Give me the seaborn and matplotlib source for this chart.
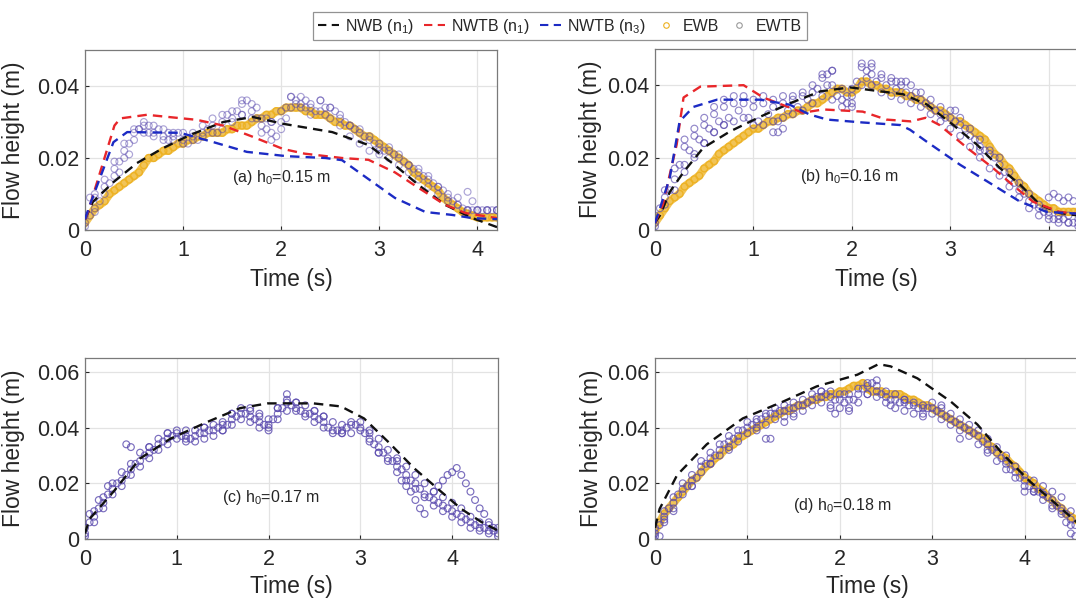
import matplotlib
matplotlib.use("Agg")
import matplotlib.pyplot as plt
from matplotlib.lines import Line2D
from matplotlib.ticker import FuncFormatter
import seaborn as sns

# ---- sample times of the measured series (s) ----
T = [0.00, 0.05, 0.10, 0.15, 0.20, 0.25, 0.30, 0.35, 0.40, 0.45,
     0.50, 0.55, 0.60, 0.65, 0.70, 0.75, 0.80, 0.85, 0.90, 0.95,
     1.00, 1.05, 1.10, 1.15, 1.20, 1.25, 1.30, 1.35, 1.40, 1.45,
     1.50, 1.55, 1.60, 1.65, 1.70, 1.75, 1.80, 1.85, 1.90, 1.95,
     2.00, 2.05, 2.10, 2.15, 2.20, 2.25, 2.30, 2.35, 2.40, 2.45,
     2.50, 2.55, 2.60, 2.65, 2.70, 2.75, 2.80, 2.85, 2.90, 2.95,
     3.00, 3.05, 3.10, 3.15, 3.20, 3.25, 3.30, 3.35, 3.40, 3.45,
     3.50, 3.55, 3.60, 3.65, 3.70, 3.75, 3.80, 3.85, 3.90, 3.95,
     4.00, 4.05, 4.10, 4.15, 4.20, 4.25, 4.30, 4.35, 4.40, 4.45,
     4.50, 4.55, 4.60]
# every second sample time, used by the upper / lower edge readings of the EWTB clouds
T2 = T[::2]

# ---- (a) h0 = 0.15 m ----
ewb_a = [0.002, 0.004, 0.006, 0.007, 0.008, 0.010, 0.011, 0.012, 0.013, 0.014,
         0.015, 0.016, 0.018, 0.020, 0.020, 0.021, 0.022, 0.022, 0.023, 0.024,
         0.024, 0.025, 0.025, 0.026, 0.026, 0.027, 0.027, 0.027, 0.027, 0.028,
         0.028, 0.029, 0.029, 0.029, 0.030, 0.031, 0.031, 0.032, 0.032, 0.033,
         0.033, 0.034, 0.034, 0.034, 0.034, 0.033, 0.033, 0.032, 0.032, 0.032,
         0.031, 0.030, 0.030, 0.029, 0.029, 0.028, 0.027, 0.026, 0.026, 0.025,
         0.024, 0.023, 0.022, 0.021, 0.020, 0.019, 0.018, 0.016, 0.015, 0.014,
         0.013, 0.012, 0.011, 0.009, 0.008, 0.007, 0.006, 0.005, 0.0045, 0.004,
         0.0035, 0.0035, 0.0035, 0.0035, 0.0035]
ewtb_a = [0.001, 0.004, 0.009, 0.008, 0.012, 0.013, 0.017, 0.019, 0.022, 0.024,
          0.027, 0.028, 0.029, 0.029, 0.027, 0.028, 0.026, 0.027, 0.026, 0.027,
          0.025, 0.024, 0.026, 0.025, 0.027, 0.028, 0.029, 0.027, 0.030, 0.032,
          0.031, 0.033, 0.035, 0.036, 0.033, 0.031, 0.029, 0.028, 0.027, 0.026,
          0.030, 0.034, 0.037, 0.036, 0.035, 0.034, 0.034, 0.033, 0.036, 0.034,
          0.034, 0.033, 0.031, 0.030, 0.029, 0.028, 0.027, 0.026, 0.025, 0.024,
          0.023, 0.022, 0.022, 0.021, 0.020, 0.019, 0.018, 0.017, 0.016, 0.015,
          0.014, 0.013, 0.012, 0.011, 0.009, 0.008, 0.007, 0.006, 0.0055, 0.0055,
          0.0055, 0.0055, 0.0055, 0.0055, 0.0055]
ewtb_a_hi = [0.004, 0.010, 0.014, 0.019, 0.024, 0.028, 0.030, 0.029, 0.028, 0.027,
             0.027, 0.027, 0.029, 0.031, 0.032, 0.033, 0.036, 0.035, 0.031, 0.030,
             0.033, 0.037, 0.037, 0.035, 0.036, 0.034, 0.032, 0.029, 0.028, 0.026,
             0.024, 0.023, 0.021, 0.018, 0.017, 0.015, 0.012, 0.010, 0.009, 0.0055,
             0.0055, 0.0055, 0.0055]
ewtb_a_lo = [0.002, 0.006, 0.010, 0.015, 0.020, 0.025, 0.027, 0.026, 0.025, 0.025,
             0.024, 0.025, 0.026, 0.027, 0.028, 0.030, 0.032, 0.031, 0.027, 0.025,
             0.028, 0.034, 0.034, 0.032, 0.033, 0.031, 0.029, 0.026, 0.024, 0.022,
             0.021, 0.020, 0.018, 0.016, 0.014, 0.012, 0.010, 0.008, 0.007, 0.0055,
             0.0055, 0.0055, 0.0055]
ewtb_a_xt = [0.05, 0.10, 0.35, 0.45, 0.55, 0.65, 0.85, 1.60, 1.75, 1.85,
             1.90, 2.05, 2.15, 2.25, 2.45, 3.00, 3.90, 3.95]
ewtb_a_xh = [0.009, 0.005, 0.016, 0.021, 0.028, 0.027, 0.025, 0.032, 0.034, 0.031,
             0.030, 0.031, 0.035, 0.036, 0.032, 0.022, 0.0106, 0.008]
nwb_a_t = [0, 0.08, 0.29, 0.53, 0.80, 1.07, 1.41, 1.71, 2.02, 2.52, 2.89, 3.16, 3.40, 3.67, 3.95, 4.20]
nwb_a_h = [0.003, 0.0078, 0.0133, 0.0186, 0.0228, 0.0264, 0.030, 0.0314, 0.0295, 0.0272,
           0.0236, 0.018, 0.0125, 0.007, 0.0033, 0.0008]
nwtb1_a_t = [0, 0.03, 0.30, 0.36, 0.63, 1.14, 1.41, 1.70, 2.02, 2.24, 2.62, 2.89, 3.16, 3.40, 3.67, 3.88, 4.20]
nwtb1_a_h = [0.003, 0.005, 0.029, 0.031, 0.032, 0.0306, 0.029, 0.026, 0.0225, 0.0212, 0.020,
             0.0195, 0.016, 0.0117, 0.007, 0.0047, 0.0033]
nwtb3_a_t = [0, 0.05, 0.29, 0.43, 0.97, 1.31, 1.65, 2.06, 2.45, 2.62, 2.83, 3.16, 3.47, 3.74, 3.95, 4.20]
nwtb3_a_h = [0.003, 0.007, 0.0244, 0.0272, 0.027, 0.0244, 0.0217, 0.0205, 0.020, 0.0194,
             0.0153, 0.0089, 0.005, 0.0042, 0.0033, 0.003]

# ---- (b) h0 = 0.16 m ----
ewb_b = [0.002, 0.004, 0.006, 0.008, 0.009, 0.010, 0.012, 0.013, 0.014, 0.015,
         0.017, 0.018, 0.019, 0.021, 0.022, 0.023, 0.024, 0.025, 0.026, 0.027,
         0.028, 0.028, 0.029, 0.030, 0.030, 0.031, 0.031, 0.032, 0.032, 0.033,
         0.033, 0.034, 0.035, 0.035, 0.036, 0.037, 0.038, 0.039, 0.039, 0.038,
         0.038, 0.039, 0.041, 0.041, 0.040, 0.040, 0.039, 0.039, 0.038, 0.038,
         0.038, 0.037, 0.037, 0.036, 0.036, 0.035, 0.034, 0.033, 0.033, 0.032,
         0.031, 0.030, 0.030, 0.029, 0.028, 0.027, 0.026, 0.025, 0.023, 0.021,
         0.020, 0.018, 0.017, 0.015, 0.013, 0.012, 0.010, 0.009, 0.008, 0.007,
         0.006, 0.006, 0.005, 0.005, 0.005, 0.005, 0.005]
ewtb_b = [0.002, 0.006, 0.009, 0.011, 0.014, 0.018, 0.023, 0.022, 0.026, 0.025,
          0.029, 0.028, 0.032, 0.030, 0.034, 0.031, 0.035, 0.033, 0.035, 0.031,
          0.034, 0.030, 0.035, 0.032, 0.034, 0.030, 0.035, 0.033, 0.036, 0.034,
          0.037, 0.036, 0.038, 0.039, 0.042, 0.043, 0.040, 0.037, 0.036, 0.035,
          0.037, 0.041, 0.045, 0.044, 0.043, 0.041, 0.042, 0.040, 0.041, 0.039,
          0.040, 0.038, 0.037, 0.038, 0.036, 0.035, 0.034, 0.033, 0.032, 0.031,
          0.031, 0.030, 0.029, 0.028, 0.026, 0.025, 0.023, 0.022, 0.021, 0.020,
          0.018, 0.016, 0.014, 0.013, 0.011, 0.010, 0.008, 0.007, 0.006, 0.005,
          0.004, 0.003, 0.003, 0.003, 0.002, 0.002, 0.002]
ewtb_b_hi = [0.004, 0.011, 0.017, 0.025, 0.028, 0.031, 0.034, 0.036, 0.037, 0.037,
             0.036, 0.037, 0.036, 0.037, 0.037, 0.038, 0.040, 0.043, 0.044, 0.039,
             0.039, 0.046, 0.045, 0.043, 0.042, 0.041, 0.040, 0.038, 0.036, 0.034,
             0.033, 0.031, 0.028, 0.025, 0.022, 0.020, 0.016, 0.013, 0.010, 0.007,
             0.005, 0.004, 0.004, 0.003]
ewtb_b_lo = [0.001, 0.007, 0.011, 0.016, 0.020, 0.024, 0.027, 0.029, 0.030, 0.031,
             0.029, 0.029, 0.030, 0.031, 0.032, 0.033, 0.035, 0.037, 0.036, 0.034,
             0.035, 0.040, 0.040, 0.038, 0.037, 0.036, 0.035, 0.034, 0.032, 0.030,
             0.028, 0.026, 0.023, 0.020, 0.017, 0.015, 0.012, 0.009, 0.006, 0.004,
             0.003, 0.002, 0.002, 0.001]
ewtb_b_xt = [0.30, 0.40, 0.50, 0.60, 0.70, 1.20, 1.25, 1.30, 1.75, 1.80, 1.95, 2.00,
             2.15, 2.20, 2.45, 2.55, 3.05, 3.30, 4.00, 4.05, 4.10, 4.15, 4.20, 4.25]
ewtb_b_xh = [0.018, 0.021, 0.024, 0.027, 0.029, 0.027, 0.027, 0.028, 0.040, 0.044, 0.037, 0.034,
             0.042, 0.046, 0.041, 0.041, 0.033, 0.022, 0.009, 0.010, 0.009, 0.008, 0.009, 0.008]
nwb_b_t = [0, 0.05, 0.15, 0.29, 0.49, 0.76, 1.07, 1.37, 1.68, 1.98, 2.15, 2.52, 2.76, 3.03,
           3.27, 3.50, 3.71, 3.91, 4.11, 4.30]
nwb_b_h = [0.002, 0.004, 0.0105, 0.016, 0.0227, 0.0272, 0.0313, 0.035, 0.0383, 0.0394, 0.0388,
           0.0375, 0.0347, 0.029, 0.0236, 0.0172, 0.0125, 0.007, 0.0047, 0.004]
nwtb1_b_t = [0, 0.08, 0.22, 0.29, 0.46, 0.90, 1.10, 1.37, 1.50, 1.71, 2.11, 2.35, 2.60, 2.75,
             2.89, 3.17, 3.43, 3.63, 3.84, 4.11, 4.30]
nwtb1_b_h = [0.002, 0.007, 0.0236, 0.0366, 0.0396, 0.040, 0.0366, 0.0338, 0.0324, 0.0333,
             0.0327, 0.0305, 0.030, 0.031, 0.029, 0.0227, 0.0172, 0.0125, 0.0078, 0.005, 0.0045]
nwtb3_b_t = [0, 0.05, 0.15, 0.25, 0.39, 0.63, 1.07, 1.37, 1.57, 1.75, 2.11, 2.49, 2.59, 2.76,
             3.10, 3.43, 3.71, 3.98, 4.30]
nwtb3_b_h = [0.002, 0.006, 0.0144, 0.030, 0.034, 0.036, 0.036, 0.0346, 0.0319, 0.0305, 0.0297,
             0.029, 0.0277, 0.0244, 0.018, 0.0125, 0.0078, 0.005, 0.0045]

# ---- (c) h0 = 0.17 m ----
ewtb_c = [0.002, 0.006, 0.008, 0.011, 0.013, 0.016, 0.018, 0.020, 0.021, 0.023,
          0.025, 0.027, 0.028, 0.030, 0.031, 0.032, 0.034, 0.035, 0.036, 0.037,
          0.038, 0.037, 0.037, 0.036, 0.037, 0.038, 0.038, 0.039, 0.039, 0.040,
          0.041, 0.041, 0.043, 0.044, 0.045, 0.045, 0.044, 0.043, 0.042, 0.041,
          0.041, 0.043, 0.045, 0.047, 0.049, 0.048, 0.047, 0.046, 0.045, 0.045,
          0.044, 0.043, 0.042, 0.040, 0.039, 0.039, 0.039, 0.040, 0.041, 0.041,
          0.040, 0.038, 0.036, 0.034, 0.033, 0.031, 0.029, 0.028, 0.026, 0.025,
          0.023, 0.021, 0.020, 0.018, 0.016, 0.015, 0.014, 0.013, 0.012, 0.011,
          0.010, 0.009, 0.008, 0.007, 0.006, 0.005, 0.004, 0.004, 0.003, 0.003,
          0.002]
ewtb_c_hi = [0.004, 0.010, 0.015, 0.020, 0.024, 0.027, 0.031, 0.033, 0.036, 0.038,
             0.039, 0.039, 0.039, 0.040, 0.041, 0.042, 0.045, 0.047, 0.046, 0.044,
             0.043, 0.047, 0.050, 0.049, 0.048, 0.046, 0.044, 0.042, 0.041, 0.042,
             0.042, 0.039, 0.036, 0.032, 0.029, 0.026, 0.023, 0.020, 0.017, 0.015,
             0.013, 0.011, 0.008, 0.006, 0.005, 0.004]
ewtb_c_lo = [0.001, 0.006, 0.011, 0.016, 0.019, 0.023, 0.026, 0.029, 0.032, 0.034,
             0.036, 0.035, 0.035, 0.036, 0.037, 0.039, 0.041, 0.043, 0.042, 0.040,
             0.039, 0.043, 0.046, 0.046, 0.044, 0.042, 0.040, 0.038, 0.038, 0.038,
             0.039, 0.035, 0.031, 0.028, 0.024, 0.021, 0.018, 0.015, 0.012, 0.010,
             0.008, 0.006, 0.004, 0.003, 0.002, 0.001]
ewtb_c_xt = [0.05, 0.15, 0.25, 0.45, 0.50, 0.70, 0.90, 1.10, 1.30, 1.50, 1.60, 1.80, 1.90,
             2.00, 2.10, 2.20, 2.30, 2.50, 2.60, 2.80, 3.10, 3.20, 3.40, 3.45, 3.50, 3.55,
             3.60, 3.65, 3.70, 3.80, 3.85, 3.90, 3.95, 4.00, 4.05, 4.10, 4.15, 4.20, 4.25,
             4.30, 4.35, 4.40, 4.45]
ewtb_c_xh = [0.009, 0.014, 0.019, 0.034, 0.033, 0.033, 0.038, 0.036, 0.040, 0.039, 0.045, 0.047,
             0.045, 0.040, 0.047, 0.052, 0.049, 0.046, 0.044, 0.038, 0.038, 0.031, 0.028, 0.021,
             0.019, 0.017, 0.014, 0.011, 0.009, 0.017, 0.019, 0.021, 0.023, 0.024, 0.0255, 0.023,
             0.020, 0.017, 0.014, 0.011, 0.009, 0.006, 0.004]
nwb_c_t = [0, 0.05, 0.31, 0.60, 0.93, 1.33, 1.69, 1.99, 2.49, 2.79, 3.04, 3.30, 3.59, 3.88,
           4.10, 4.32, 4.50]
nwb_c_h = [0.002, 0.0072, 0.017, 0.0289, 0.036, 0.042, 0.047, 0.0487, 0.0487, 0.0476, 0.0433,
           0.035, 0.0253, 0.017, 0.0108, 0.0061, 0.003]

# ---- (d) h0 = 0.18 m ----
ewb_d = [0.003, 0.006, 0.009, 0.011, 0.013, 0.015, 0.017, 0.019, 0.021, 0.022,
         0.024, 0.026, 0.027, 0.029, 0.030, 0.032, 0.033, 0.034, 0.036, 0.037,
         0.038, 0.039, 0.040, 0.041, 0.042, 0.043, 0.044, 0.045, 0.046, 0.046,
         0.047, 0.048, 0.048, 0.049, 0.050, 0.050, 0.051, 0.051, 0.052, 0.052,
         0.053, 0.053, 0.054, 0.055, 0.055, 0.056, 0.054, 0.053, 0.053, 0.053,
         0.052, 0.052, 0.052, 0.052, 0.051, 0.050, 0.050, 0.049, 0.048, 0.048,
         0.047, 0.046, 0.045, 0.044, 0.043, 0.042, 0.041, 0.040, 0.039, 0.038,
         0.037, 0.036, 0.034, 0.033, 0.031, 0.030, 0.029, 0.027, 0.026, 0.024,
         0.022, 0.021, 0.020, 0.018, 0.017, 0.015, 0.014, 0.012, 0.011, 0.009,
         0.008, 0.007, 0.006]
ewtb_d = [0.002, 0.005, 0.008, 0.011, 0.013, 0.016, 0.018, 0.019, 0.021, 0.022,
          0.026, 0.027, 0.029, 0.030, 0.032, 0.034, 0.035, 0.036, 0.037, 0.039,
          0.040, 0.041, 0.042, 0.043, 0.044, 0.045, 0.045, 0.046, 0.046, 0.047,
          0.047, 0.048, 0.048, 0.049, 0.050, 0.051, 0.051, 0.052, 0.051, 0.050,
          0.050, 0.049, 0.050, 0.050, 0.052, 0.054, 0.055, 0.056, 0.053, 0.052,
          0.051, 0.050, 0.050, 0.049, 0.049, 0.048, 0.048, 0.047, 0.047, 0.047,
          0.047, 0.046, 0.045, 0.044, 0.043, 0.042, 0.041, 0.040, 0.039, 0.038,
          0.037, 0.035, 0.034, 0.032, 0.031, 0.029, 0.027, 0.025, 0.024, 0.022,
          0.021, 0.019, 0.018, 0.017, 0.016, 0.015, 0.014, 0.012, 0.011, 0.009,
          0.007, 0.005, 0.003]
ewtb_d_hi = [0.004, 0.010, 0.015, 0.020, 0.023, 0.028, 0.031, 0.034, 0.037, 0.039,
             0.042, 0.043, 0.045, 0.047, 0.048, 0.049, 0.050, 0.052, 0.053, 0.053,
             0.052, 0.052, 0.054, 0.056, 0.055, 0.053, 0.052, 0.050, 0.049, 0.048,
             0.049, 0.047, 0.045, 0.043, 0.041, 0.039, 0.036, 0.033, 0.030, 0.026,
             0.023, 0.021, 0.019, 0.017, 0.015, 0.010, 0.005]
ewtb_d_lo = [0.001, 0.006, 0.011, 0.016, 0.019, 0.024, 0.027, 0.030, 0.033, 0.035,
             0.038, 0.040, 0.041, 0.043, 0.044, 0.045, 0.046, 0.048, 0.049, 0.048,
             0.047, 0.047, 0.049, 0.052, 0.051, 0.049, 0.047, 0.046, 0.045, 0.045,
             0.045, 0.043, 0.041, 0.039, 0.037, 0.034, 0.031, 0.028, 0.025, 0.022,
             0.019, 0.017, 0.014, 0.012, 0.009, 0.005, 0.001]
ewtb_d_xt = [0.05, 0.10, 0.20, 0.40, 0.60, 0.80, 1.10, 1.20, 1.25, 1.40, 1.50, 1.80, 1.90,
             1.95, 2.05, 2.10, 2.30, 2.40, 2.55, 2.70, 2.90, 3.10, 3.30, 3.60, 3.80, 4.00,
             4.10, 4.20, 4.30, 4.40, 4.45, 4.50, 4.55]
ewtb_d_xh = [0.001, 0.007, 0.010, 0.019, 0.027, 0.032, 0.039, 0.036, 0.036, 0.042, 0.044,
             0.053, 0.047, 0.045, 0.052, 0.046, 0.052, 0.057, 0.048, 0.050, 0.044, 0.048,
             0.036, 0.032, 0.028, 0.017, 0.017, 0.016, 0.011, 0.010, 0.006, 0.002, 0.001]
nwb_d_t = [0, 0.05, 0.24, 0.56, 0.95, 1.39, 1.75, 2.19, 2.42, 2.55, 2.84, 3.20, 3.49, 3.77,
           4.06, 4.35, 4.60]
nwb_d_h = [0.004, 0.0108, 0.023, 0.034, 0.0433, 0.0494, 0.0548, 0.059, 0.0628, 0.062, 0.0577,
           0.0494, 0.0411, 0.0303, 0.0206, 0.0123, 0.005]

C_EWB = "#EDB120"
C_EWTB = "#5a4aae"
C_NWB = "#111111"
C_N1 = "#e8262a"
C_N3 = "#1c2bc4"

sns.set_theme(style="whitegrid")
plt.rcParams["font.family"] = ["Liberation Sans", "DejaVu Sans"]
plt.rcParams["mathtext.fontset"] = "custom"
plt.rcParams["mathtext.rm"] = "Liberation Sans"
plt.rcParams["mathtext.it"] = "Liberation Sans:italic"
plt.rcParams["lines.dashed_pattern"] = [4.0, 2.6]

fig = plt.figure(figsize=(10.76, 6.06), dpi=100)
W, H = 1076, 606


def place(left, top, w, h):
    return fig.add_axes([left / W, 1 - (top + h) / H, w / W, h / H])


def ewb(ax, vals):
    # dense yellow band: thick trace under the circles
    sns.lineplot(x=T[:len(vals)], y=vals, ax=ax, color=C_EWB, lw=6, alpha=0.75,
                 sort=False, estimator=None, legend=False, zorder=2)
    sns.scatterplot(x=T[:len(vals)], y=vals, ax=ax, marker="o", s=24, facecolor="none",
                    edgecolor=C_EWB, linewidth=1.0, alpha=0.9, legend=False, zorder=2)


def ewtb(ax, tt, hh, alpha):
    sns.scatterplot(x=tt, y=hh, ax=ax, marker="o", s=24, facecolor="none",
                    edgecolor=C_EWTB, linewidth=0.85, alpha=alpha, legend=False, zorder=3)


def model(ax, tt, hh, color):
    sns.lineplot(x=tt, y=hh, ax=ax, color=color, lw=1.7, ls="--", sort=False,
                 estimator=None, legend=False, zorder=4)


def style(ax, xmax, ymax, yticks, label, lx, ylab_x, xlab_y):
    ax.set_xlim(0, xmax)
    ax.set_ylim(0, ymax)
    ax.set_xticks([0, 1, 2, 3, 4])
    ax.set_yticks(yticks)
    ax.yaxis.set_major_formatter(FuncFormatter(lambda v, p: "0" if v == 0 else f"{v:g}"))
    ax.set_facecolor("white")
    ax.grid(True, color="#e3e3e3", lw=0.9)
    for sp in ax.spines.values():
        sp.set_visible(True)
        sp.set_color("#7a7a7a")
        sp.set_linewidth(0.9)
    ax.tick_params(axis="both", labelsize=15.5, colors="#262626", direction="in",
                   length=3, width=0.8, pad=4, bottom=True, left=True)
    ax.tick_params(axis="x", pad=7)
    ax.set_xlabel("Time (s)", fontsize=16.5, color="#262626")
    ax.set_ylabel("Flow height (m)", fontsize=16.5, color="#262626")
    ax.xaxis.set_label_coords(0.5, xlab_y)
    ax.yaxis.set_label_coords(ylab_x, 0.5)
    ax.text(lx[0], lx[1], label, transform=ax.transAxes, fontsize=11.5,
            color="#262626", ha="left", va="baseline")


def panel(ax, ewb_vals, main, hi, lo, xt, xh, alpha):
    if ewb_vals is not None:
        ewb(ax, ewb_vals)
    ewtb(ax, T[:len(main)], main, alpha)
    ewtb(ax, T2[:len(hi)], hi, alpha)
    ewtb(ax, T2[:len(lo)], lo, alpha)
    ewtb(ax, xt, xh, alpha)


ax_a = place(85, 50, 412, 180)
ax_b = place(655, 49, 443, 181)
ax_c = place(85, 358, 413, 181)
ax_d = place(655, 358, 425, 181)

# (a)
panel(ax_a, ewb_a, ewtb_a, ewtb_a_hi, ewtb_a_lo, ewtb_a_xt, ewtb_a_xh, 0.5)
model(ax_a, nwb_a_t, nwb_a_h, C_NWB)
model(ax_a, nwtb1_a_t, nwtb1_a_h, C_N1)
model(ax_a, nwtb3_a_t, nwtb3_a_h, C_N3)
style(ax_a, 4.2, 0.05, [0, 0.02, 0.04], r"(a) h$_0$=0.15 m", (0.357, 0.268), -0.146, -0.21)

# (b)
panel(ax_b, ewb_b, ewtb_b, ewtb_b_hi, ewtb_b_lo, ewtb_b_xt, ewtb_b_xh, 0.65)
model(ax_b, nwb_b_t, nwb_b_h, C_NWB)
model(ax_b, nwtb1_b_t, nwtb1_b_h, C_N1)
model(ax_b, nwtb3_b_t, nwtb3_b_h, C_N3)
style(ax_b, 4.5, 0.05, [0, 0.02, 0.04], r"(b) h$_0$=0.16 m", (0.327, 0.268), -0.12, -0.21)

# (c)
panel(ax_c, None, ewtb_c, ewtb_c_hi, ewtb_c_lo, ewtb_c_xt, ewtb_c_xh, 0.8)
model(ax_c, nwb_c_t, nwb_c_h, C_NWB)
style(ax_c, 4.5, 0.065, [0, 0.02, 0.04, 0.06], r"(c) h$_0$=0.17 m", (0.332, 0.204), -0.145, -0.2)

# (d)
panel(ax_d, ewb_d, ewtb_d, ewtb_d_hi, ewtb_d_lo, ewtb_d_xt, ewtb_d_xh, 0.75)
model(ax_d, nwb_d_t, nwb_d_h, C_NWB)
style(ax_d, 4.6, 0.065, [0, 0.02, 0.04, 0.06], r"(d) h$_0$=0.18 m", (0.325, 0.16), -0.122, -0.2)

handles = [
    Line2D([], [], color=C_NWB, ls="--", lw=1.5),
    Line2D([], [], color=C_N1, ls="--", lw=1.5),
    Line2D([], [], color=C_N3, ls="--", lw=1.5),
    Line2D([], [], ls="none", marker="o", ms=4, mfc="none", mec=C_EWB, mew=0.8),
    Line2D([], [], ls="none", marker="o", ms=4, mfc="none", mec="#9a9a9a", mew=0.8),
]
labels = [r"NWB (n$_1$)", r"NWTB (n$_1$)", r"NWTB (n$_3$)", "EWB", "EWTB"]
leg = fig.legend(handles, labels, loc="center", bbox_to_anchor=(0.5205, 0.957), ncol=5,
                 fontsize=11.5, frameon=True, fancybox=False, handlelength=1.3,
                 handletextpad=0.4, columnspacing=0.6, borderpad=0.3,
                 borderaxespad=0)
leg.get_frame().set_edgecolor("#777777")
leg.get_frame().set_linewidth(0.9)
for txt in leg.get_texts():
    txt.set_color("#262626")

fig.savefig("out.png", dpi=100)
